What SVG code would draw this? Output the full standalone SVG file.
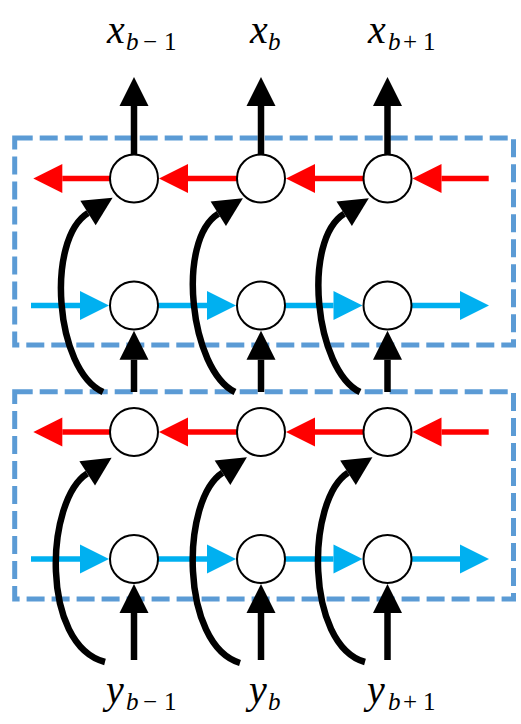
<svg xmlns="http://www.w3.org/2000/svg" width="521" height="724" viewBox="0 0 521 724">
<style>
.box{fill:none;stroke:#5B9BD5;stroke-width:5;stroke-dasharray:18 7}
.blk{fill:none;stroke:#000;stroke-width:6.5}
.red{fill:none;stroke:#FF0000;stroke-width:5.5}
.blu{fill:none;stroke:#00B0F0;stroke-width:5.5}
.nd{fill:#fff;stroke:#000;stroke-width:2}
.m{font-family:"Liberation Serif","DejaVu Serif",serif;font-style:italic;font-size:40px;fill:#000}
.s{font-family:"Liberation Serif","DejaVu Serif",serif;font-size:25px;fill:#000}
.i{font-style:italic}
</style>
<defs>
<marker id="ak" markerUnits="userSpaceOnUse" markerWidth="30" markerHeight="30" refX="0" refY="14.5" orient="auto" overflow="visible"><path d="M0,0 L29,14.5 L0,29 z" fill="#000"/></marker>
<marker id="ar" markerUnits="userSpaceOnUse" markerWidth="30" markerHeight="30" refX="0" refY="14.5" orient="auto" overflow="visible"><path d="M0,0 L29,14.5 L0,29 z" fill="#FF0000"/></marker>
<marker id="ab" markerUnits="userSpaceOnUse" markerWidth="30" markerHeight="30" refX="0" refY="14.5" orient="auto" overflow="visible"><path d="M0,0 L29,14.5 L0,29 z" fill="#00B0F0"/></marker>
</defs>
<g id="layer-boxes">
<rect id="box-upper" class="box" x="14.7" y="138" width="498.8" height="207"/>
<rect id="box-lower" class="box" x="14.7" y="391.7" width="498.8" height="207.3"/>
</g>
<g id="connectors">
<path class="blk" d="M134,178.5 V106" marker-end="url(#ak)"/>
<path class="blk" d="M261,178.5 V106" marker-end="url(#ak)"/>
<path class="blk" d="M387.5,178.5 V106" marker-end="url(#ak)"/>
<path class="blk" d="M134,392 V359.7" marker-end="url(#ak)"/>
<path class="blk" d="M261,392 V359.7" marker-end="url(#ak)"/>
<path class="blk" d="M387.5,392 V359.7" marker-end="url(#ak)"/>
<path class="blk" d="M134,660 V613" marker-end="url(#ak)"/>
<path class="blk" d="M261,660 V613" marker-end="url(#ak)"/>
<path class="blk" d="M387.5,660 V613" marker-end="url(#ak)"/>
<path class="red" d="M488.7,178.5 H441.5" marker-end="url(#ar)"/>
<path class="red" d="M387.5,178.5 H315" marker-end="url(#ar)"/>
<path class="red" d="M261,178.5 H188" marker-end="url(#ar)"/>
<path class="red" d="M134,178.5 H62.3" marker-end="url(#ar)"/>
<path class="blu" d="M31,305.5 H80" marker-end="url(#ab)"/>
<path class="blu" d="M134,305.5 H207" marker-end="url(#ab)"/>
<path class="blu" d="M261,305.5 H333.5" marker-end="url(#ab)"/>
<path class="blu" d="M387.5,305.5 H460" marker-end="url(#ab)"/>
<path class="red" d="M488.7,432 H441.5" marker-end="url(#ar)"/>
<path class="red" d="M387.5,432 H315" marker-end="url(#ar)"/>
<path class="red" d="M261,432 H188" marker-end="url(#ar)"/>
<path class="red" d="M134,432 H62.3" marker-end="url(#ar)"/>
<path class="blu" d="M31,559 H80" marker-end="url(#ab)"/>
<path class="blu" d="M134,559 H207" marker-end="url(#ab)"/>
<path class="blu" d="M261,559 H333.5" marker-end="url(#ab)"/>
<path class="blu" d="M387.5,559 H460" marker-end="url(#ab)"/>
<path class="blk" d="M103,392 C55,370 45.5,239.5 88,213" marker-end="url(#ak)"/>
<path class="blk" d="M235,392 C190,370 175.8,240.2 218.3,213.7" marker-end="url(#ak)"/>
<path class="blk" d="M360,392 C315,370 301.7,240.2 344.2,213.7" marker-end="url(#ak)"/>
<path class="blk" d="M105,662 C40,645 45.1,500.4 87.2,473.4" marker-end="url(#ak)"/>
<path class="blk" d="M240,663 C180,645 180.4,499.8 222.5,472.8" marker-end="url(#ak)"/>
<path class="blk" d="M365,662 C305,645 305.9,499.8 348,472.8" marker-end="url(#ak)"/>
</g>
<g id="n-u-r1"><circle class="nd" cx="134" cy="178.5" r="24"/></g>
<g id="n-u-r2"><circle class="nd" cx="261" cy="178.5" r="24"/></g>
<g id="n-u-r3"><circle class="nd" cx="387.5" cy="178.5" r="24"/></g>
<g id="n-u-b1"><circle class="nd" cx="134" cy="305.5" r="24"/></g>
<g id="n-u-b2"><circle class="nd" cx="261" cy="305.5" r="24"/></g>
<g id="n-u-b3"><circle class="nd" cx="387.5" cy="305.5" r="24"/></g>
<g id="n-l-r1"><circle class="nd" cx="134" cy="432" r="24"/></g>
<g id="n-l-r2"><circle class="nd" cx="261" cy="432" r="24"/></g>
<g id="n-l-r3"><circle class="nd" cx="387.5" cy="432" r="24"/></g>
<g id="n-l-b1"><circle class="nd" cx="134" cy="559" r="24"/></g>
<g id="n-l-b2"><circle class="nd" cx="261" cy="559" r="24"/></g>
<g id="n-l-b3"><circle class="nd" cx="387.5" cy="559" r="24"/></g>
<g id="label-x1"><text class="m" x="107" y="43">x</text><text class="s" y="50"><tspan class="i" x="126">b</tspan><tspan x="143">−</tspan><tspan x="164">1</tspan></text></g>
<g id="label-x2"><text class="m" x="250" y="43">x</text><text class="s" y="50"><tspan class="i" x="268">b</tspan></text></g>
<g id="label-x3"><text class="m" x="368" y="43">x</text><text class="s" y="50"><tspan class="i" x="388">b</tspan><tspan x="403">+</tspan><tspan x="423">1</tspan></text></g>
<g id="label-y1"><text class="m" x="106" y="703">y</text><text class="s" y="710"><tspan class="i" x="126">b</tspan><tspan x="143">−</tspan><tspan x="164">1</tspan></text></g>
<g id="label-y2"><text class="m" x="249" y="703">y</text><text class="s" y="710"><tspan class="i" x="268">b</tspan></text></g>
<g id="label-y3"><text class="m" x="367" y="703">y</text><text class="s" y="710"><tspan class="i" x="388">b</tspan><tspan x="403">+</tspan><tspan x="423">1</tspan></text></g>
</svg>
